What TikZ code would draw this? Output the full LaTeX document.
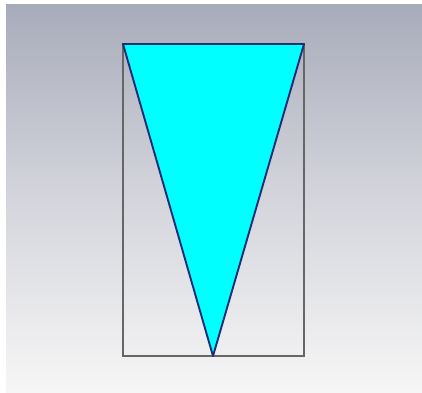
\documentclass[tikz,border=0pt]{standalone}
\begin{document}
\begin{tikzpicture}[x=1pt,y=-1pt,
  frame/.style={draw=black!60,line width=1.3pt},
  tri/.style={draw=edgeblue,fill=trifill,line width=1.9pt,line join=round}]
\definecolor{edgeblue}{RGB}{25,45,120}
\definecolor{trifill}{RGB}{0,255,255}
\definecolor{bgtop}{RGB}{168,171,186}
\definecolor{bgmid}{RGB}{212,213,220}
\definecolor{bgbot}{RGB}{246,246,246}
\useasboundingbox (0,0) rectangle (422,392);
\fill[white] (0,0) rectangle (422,392);
\shade[top color=bgtop,bottom color=bgbot,middle color=bgmid] (6,4) rectangle (422,392);
\coordinate (tl) at (123,44);
\coordinate (tr) at (304,44);
\coordinate (bl) at (123,356);
\coordinate (br) at (304,356);
\coordinate (apex) at (213,356);
\draw[frame] (tl) rectangle (br);
\draw[tri] (tl) -- (tr) -- (apex) -- cycle;
\end{tikzpicture}
\end{document}
